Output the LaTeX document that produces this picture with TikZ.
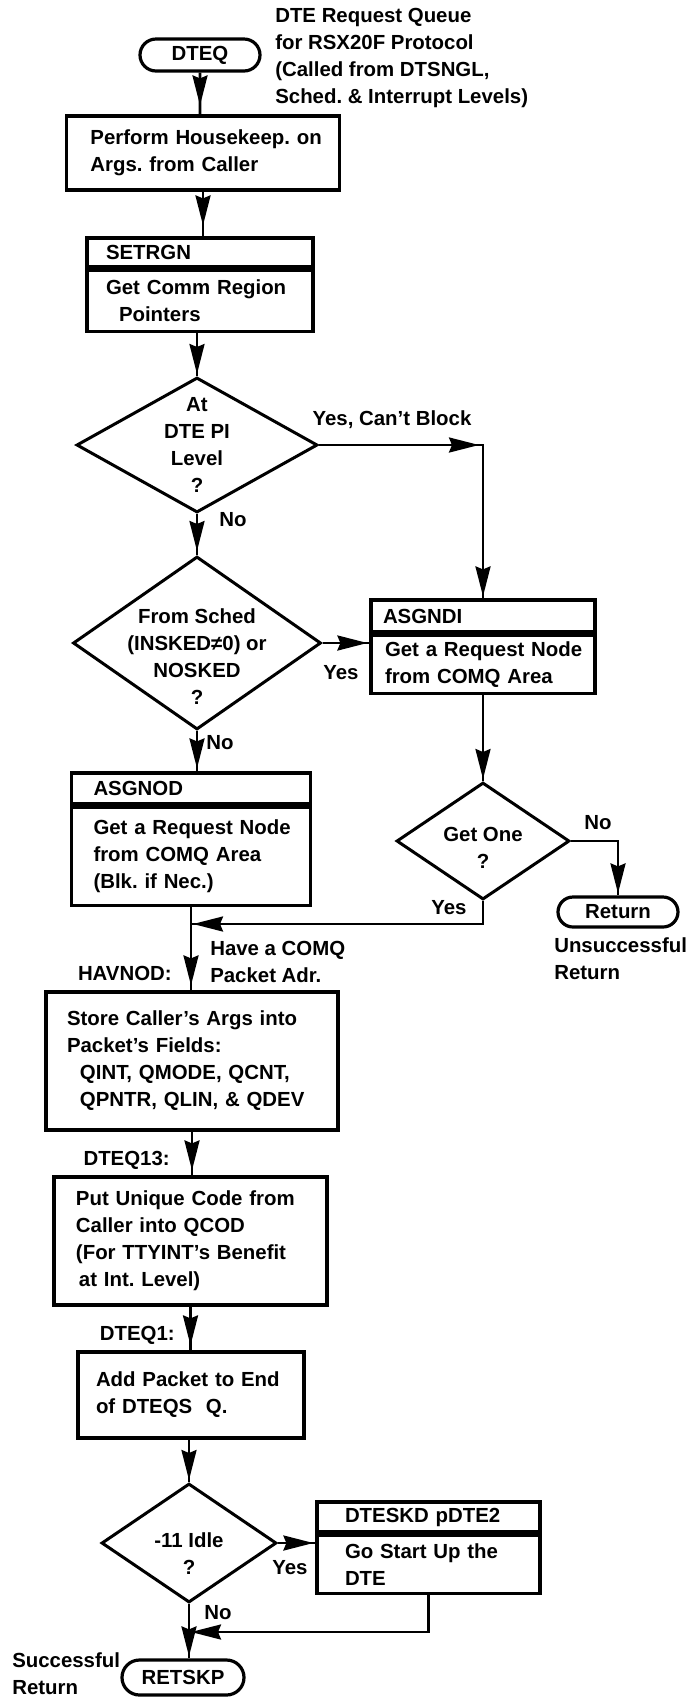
\documentclass[tikz,border=0pt]{standalone}
\usepackage{fontspec}
\setmainfont{Liberation Sans}
\usetikzlibrary{positioning,shapes.geometric,shapes.misc,arrows.meta,decorations.markings}

\begin{document}
\frenchspacing
\begin{tikzpicture}[x=0.5pt,y=-0.5pt,line width=1.3pt,
every node/.style = {font=\fontsize{10.2}{13.5}\selectfont\bfseries},
proc node/.style = {rectangle,draw,line width=1.6pt,inner sep=0pt},
lpad/.style = {execute at begin node={\raggedright\leftskip=#1\relax}},
test node/.style = {diamond,draw,line width=1.5pt,inner sep=0pt},
end node/.style = {rounded rectangle,draw,line width=1.6pt,inner sep=0pt},
note node/.style = {inner sep=0pt,align=left},
flow/.style = {postaction={decorate,decoration={markings,
  mark=at position #1 with {\arrow{Stealth[length=15pt,width=7.5pt,inset=1.5pt]}}}}},
flow/.default = -1pt]

\useasboundingbox (0,0) rectangle (688,1699);

\node[end node,minimum width=60pt,minimum height=16pt] (1) at (200,55) {DTEQ};
\node[note node,anchor=west] (2) at (274,57.5) {DTE Request Queue\\for RSX20F Protocol\\(Called from DTSNGL,\\Sched. \& Interrupt Levels)};
\node[proc node,text width=136.5pt,minimum height=37pt,lpad=12pt] (3) at (203,153) {Perform Housekeep. on\\Args. from Caller};
\node[proc node,text width=113pt,minimum height=14.5pt,lpad=9.5pt] (4) at (200,252.5) {SETRGN};
\node[proc node,text width=113pt,minimum height=30.5pt,lpad=9.5pt,below=0pt of 4] (5) {Get Comm Region\\\hspace*{6.5pt}Pointers};
\node[test node,minimum width=120.5pt,minimum height=67.5pt,
  label={[align=center]center:At\\DTE PI\\Level\\?}] (6) at (197,445) {};
\node[test node,minimum width=124pt,minimum height=86.5pt,
  label={[align=center,yshift=-7pt]center:From Sched\\(INSKED≠0) or\\NOSKED\\?}] (7) at (197,643) {};
\node[proc node,text width=112pt,minimum height=16pt,lpad=6pt] (8) at (483,616) {ASGNDI};
\node[proc node,text width=112pt,minimum height=29pt,lpad=7pt,below=0pt of 8] (9) {Get a Request Node\\from COMQ Area};
\node[proc node,text width=119.5pt,minimum height=15.5pt,lpad=11pt] (10) at (191,788.5) {ASGNOD};
\node[proc node,text width=119.5pt,minimum height=49pt,lpad=11pt,below=0pt of 10] (11) {Get a Request Node\\from COMQ Area\\(Blk. if Nec.)};
\node[test node,minimum width=86.5pt,minimum height=58.5pt,
  label={[align=center,yshift=-3.5pt]center:Get One\\?}] (12) at (483,841) {};
\node[end node,minimum width=60pt,minimum height=15pt] (13) at (618,912) {Return};
\node[proc node,text width=146pt,minimum height=69pt,lpad=10.5pt] (14) at (192,1061) {Store Caller's Args into\\Packet's Fields:\\\hspace*{6.5pt}QINT, QMODE, QCNT,\\\hspace*{6.5pt}QPNTR, QLIN, \& QDEV};
\node[proc node,text width=136.5pt,minimum height=64pt,lpad=11pt] (15) at (190.5,1241) {Put Unique Code from\\Caller into QCOD\\(For TTYINT's Benefit\\\hspace*{1.5pt}at Int. Level)};
\node[proc node,text width=113pt,minimum height=43pt,lpad=9pt] (16) at (191,1395) {Add Packet to End\\of DTEQS\ \ Q.};
\node[test node,minimum width=87.5pt,minimum height=59.5pt,
  label={[align=center,yshift=-5.5pt]center:-11 Idle\\?}] (17) at (189,1543) {};
\node[proc node,text width=111.5pt,minimum height=15pt,lpad=14pt] (18) at (428.5,1517) {DTESKD pDTE2};
\node[proc node,text width=111.5pt,minimum height=29pt,lpad=14pt,below=0pt of 18] (19) {Go Start Up the\\DTE};
\node[end node,minimum width=61pt,minimum height=17.5pt] (20) at (183,1677.5) {RETSKP};

% joins on the main line
\coordinate (21) at (191,924);
\coordinate (22) at (189,1632);

\node[note node] (23) at (392,420) {Yes, Can't Block};
\node[note node] (24) at (233,520) {No};
\node[note node] (25) at (341,673) {Yes};
\node[note node] (26) at (220,743) {No};
\node[note node] (27) at (598,823) {No};
\node[note node] (28) at (449,908) {Yes};
\node[note node,anchor=west] (29) at (553,958.5) {Unsuccessful\\Return};
\node[note node,anchor=west] (30) at (209,961.5) {Have a COMQ\\Packet Adr.};
\node[note node,anchor=east] (31) at (173,973) {HAVNOD:};
\node[note node,anchor=east] (32) at (171,1160) {DTEQ13:};
\node[note node,anchor=east] (33) at (176,1335) {DTEQ1:};
\node[note node] (34) at (290,1568) {Yes};
\node[note node] (35) at (218,1613) {No};
\node[note node,anchor=west] (36) at (11,1674) {Successful\\Return};

\draw[flow=-4.5pt] (1) -- (1 |- 3.north);
\draw[flow=-5.5pt] (3) -- (3 |- 4.north);
\draw[flow] (6 |- 5.south) -- (6);
\draw[flow=80pt,flow] (6) -| (8);
\draw[flow=-2pt] (6) -- (7);
\draw[flow] (7) -- (7 -| 9.west);
\draw[flow=-1.5pt] (7) -- (7 |- 10.north);
\draw[flow] (12 |- 9.south) -- (12);
\draw[flow] (12) -| (13);
\draw[flow] (12) |- (21);
\draw[flow=-2.5pt] (11) -- (11 |- 14.north);
\draw[flow=-2.5pt] (14) -- (14 |- 15.north);
\draw[flow=-2.5pt] (15) -- (15 |- 16.north);
\draw[flow] (17 |- 16.south) -- (17);
\draw[flow] (17) -- (17 -| 19.west);
\draw[flow] (19) |- (22);
\draw[flow] (17) -- (17 |- 20.north);
\end{tikzpicture}
\end{document}
